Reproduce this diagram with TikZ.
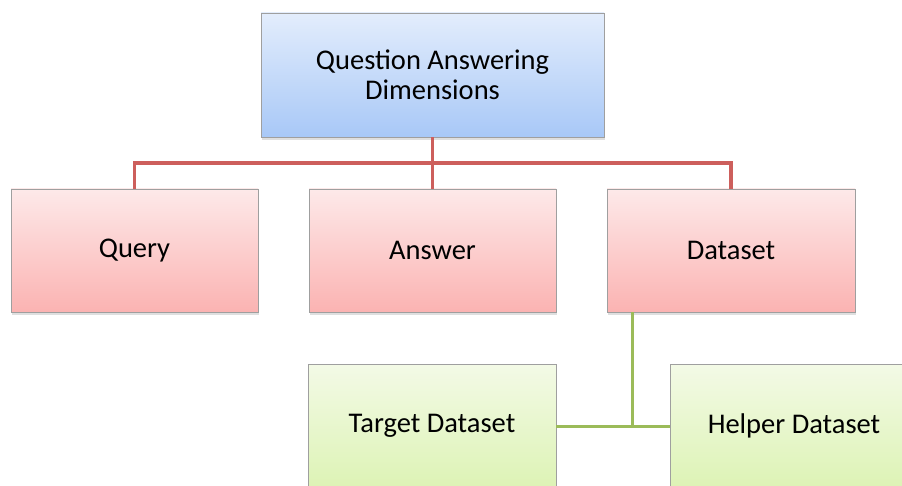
\documentclass[tikz,border=0pt]{standalone}
\usepackage{fontspec}
\setmainfont{Carlito}
\usetikzlibrary{shadows}

\definecolor{blueTop}{HTML}{E3EDFC}
\definecolor{blueBot}{HTML}{A8C8F7}
\definecolor{pinkTop}{HTML}{FDE9E9}
\definecolor{pinkBot}{HTML}{FBB3B2}
\definecolor{greenTop}{HTML}{F3FAE6}
\definecolor{greenBot}{HTML}{DDF3B5}
\definecolor{redLine}{HTML}{CD5F5C}
\definecolor{greenLine}{HTML}{9BBB59}

\tikzset{
  dimbox/.style={draw=gray!75, line width=0.8pt, minimum height=123pt, align=center,
    font=\fontsize{28.5}{30}\selectfont,
    drop shadow={shadow xshift=1pt, shadow yshift=-3pt, opacity=0.25}},
  rootbox/.style={dimbox, top color=blueTop, bottom color=blueBot},
  mainbox/.style={dimbox, top color=pinkTop, bottom color=pinkBot},
  subbox/.style={dimbox, top color=greenTop, bottom color=greenBot},
}

\begin{document}
\begin{tikzpicture}[x=1pt, y=-1pt]
\useasboundingbox (0, 0) rectangle (902, 486);
\clip (0, 0) rectangle (902, 486);
%Level 0
\node[rootbox, minimum width=343pt, minimum height=124pt] (qad) at (432.5, 75) {Question Answering\\Dimensions};
%Level 1
\node[mainbox, minimum width=247pt] (query) at (134.5, 250.5) {Query};
\node[mainbox, minimum width=247pt] (answer) at (432.5, 250.5) {Answer};
\node[mainbox, minimum width=248pt] (dataset) at (731, 250.5) {Dataset};
%Level 2
\node[subbox, minimum width=248pt] (target) at (432, 426) {Target Dataset};
\node[subbox, minimum width=248pt] (helper) at (794, 426) {Helper Dataset};
%Connectors
\coordinate (fork) at (432.5, 163);
\coordinate (split) at (632, 426);
\draw[redLine, line width=3.5pt] (qad.south) -- (fork);
\draw[redLine, line width=3.5pt] (query.north) |- (fork) -| (dataset.north);
\draw[redLine, line width=3.5pt] (fork) -- (answer.north);
\draw[greenLine, line width=3pt] (dataset.south -| split) -- (split);
\draw[greenLine, line width=3pt] (target.east) -- (helper.west);
\end{tikzpicture}
\end{document}
